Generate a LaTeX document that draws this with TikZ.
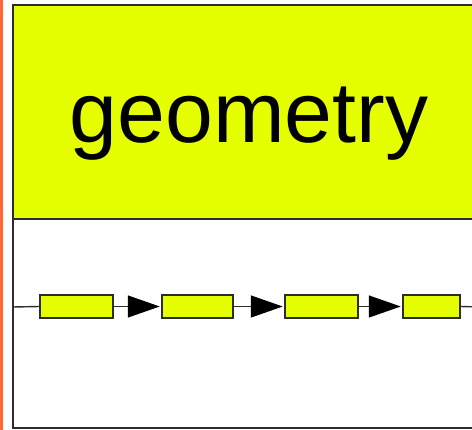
\documentclass[tikz,border=0pt]{standalone}
\usepackage{fontspec}
\setmainfont{Liberation Sans}
\usetikzlibrary{arrows.meta}
\definecolor{ylw}{RGB}{229,255,0}
\definecolor{orng}{RGB}{255,102,51}
\definecolor{edge}{RGB}{45,45,45}
\tikzset{
  stage/.style={draw=edge, line width=1.5pt, fill=ylw, rectangle, inner sep=0pt, minimum height=23pt},
  conn/.style={draw=edge, line width=1.4pt},
  flow/.style={conn, -{Triangle[length=32pt,width=22pt,fill=black,color=black]}, shorten >=1.5pt}
}
\begin{document}
\begin{tikzpicture}[x=1pt,y=-1pt]
\useasboundingbox (0,0) rectangle (472,430);
\clip (0,0) rectangle (472,430);
\fill[orng] (0,0) rectangle (3,430);
\fill[white] (3,0) rectangle (472,430);
% lower and header panels
\draw[draw=edge, line width=1.6pt, fill=white] (13,219) rectangle (490,428);
\draw[draw=edge, line width=1.6pt, fill=ylw] (13,5) rectangle (490,219);
\node[anchor=base, font=\fontsize{86}{90}\selectfont, inner sep=0pt] (title) at (249,143) {geometry};
% pipeline
\coordinate (lin) at (13,307);
\coordinate (lout) at (480,307);
\node[stage, minimum width=73pt] (b1) at (76.5,306.5) {};
\node[stage, minimum width=71pt] (b2) at (197.5,306.5) {};
\node[stage, minimum width=73pt] (b3) at (321.5,306.5) {};
\node[stage, minimum width=57pt] (b4) at (431.5,306.5) {};
\draw[conn] (lin) -- (b1.west);
\draw[flow] (b1.east) -- (b2.west);
\draw[flow] (b2.east) -- (b3.west);
\draw[flow] (b3.east) -- (b4.west);
\draw[conn] (b4.east) -- (lout);
\end{tikzpicture}
\end{document}
